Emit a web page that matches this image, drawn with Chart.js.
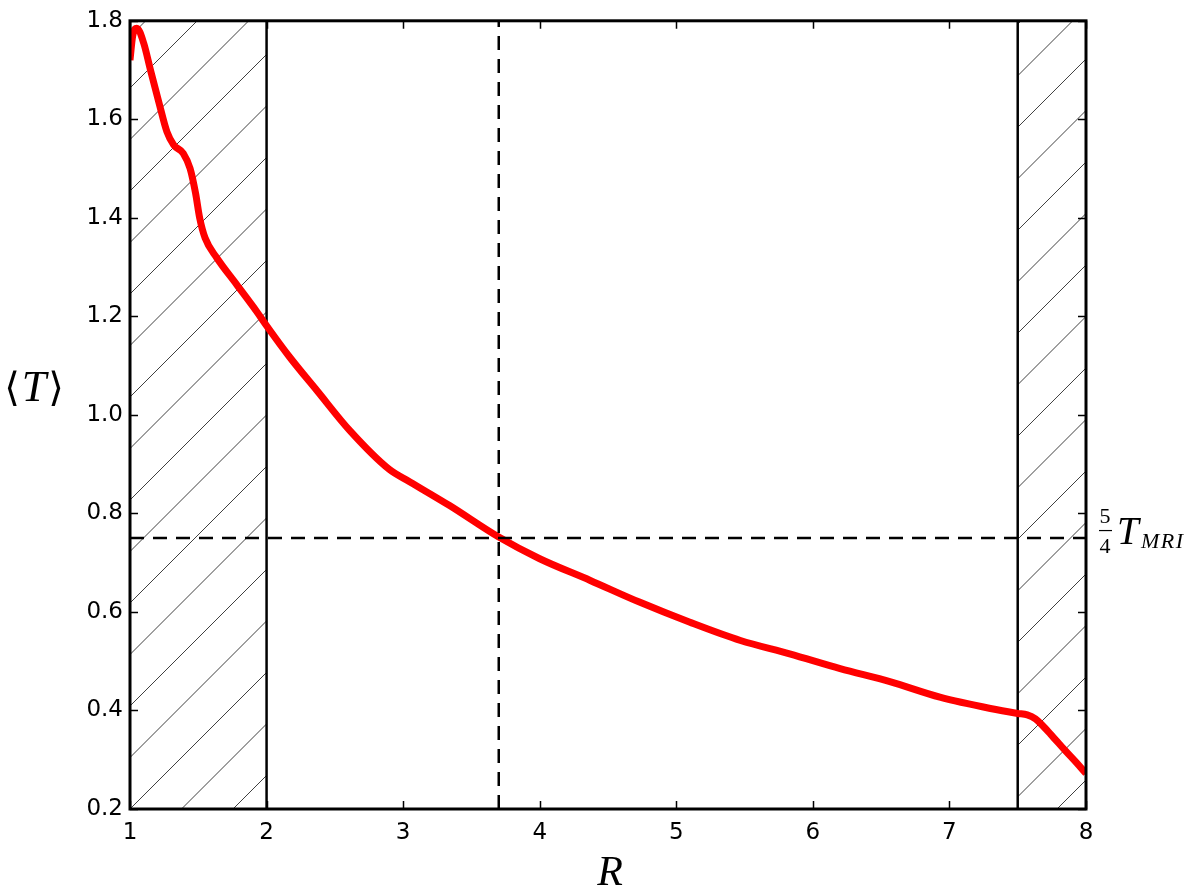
<!DOCTYPE html>
<html>
<head>
<meta charset="utf-8">
<script src="https://cdn.jsdelivr.net/npm/chart.js@4.4.1/dist/chart.umd.min.js"></script>
<style>
  html, body { margin: 0; padding: 0; background: #ffffff; }
  #wrap { width: 1200px; height: 889px; }
</style>
</head>
<body>
<div id="wrap"><canvas id="c" width="1200" height="889"></canvas></div>
<script>
// ---- data ----
const radius = [1.0, 1.02, 1.05, 1.1, 1.15, 1.21, 1.27, 1.32, 1.39, 1.44, 1.48, 1.51, 1.55, 1.635, 1.78, 1.93, 2.0, 2.17, 2.37, 2.61, 2.9, 3.05, 3.34, 3.7, 4.0, 4.37, 4.73, 5.1, 5.47, 5.83, 6.2, 6.57, 6.93, 7.3, 7.5, 7.57, 7.63, 7.68, 7.75, 7.85, 7.93, 8.0];
const meanT  = [1.72, 1.77, 1.785, 1.755, 1.70, 1.636, 1.575, 1.548, 1.531, 1.50, 1.45, 1.40, 1.359, 1.319, 1.265, 1.209, 1.181, 1.117, 1.049, 0.968, 0.889, 0.864, 0.816, 0.752, 0.708, 0.664, 0.62, 0.579, 0.542, 0.515, 0.485, 0.458, 0.427, 0.404, 0.394, 0.391, 0.383, 0.370, 0.349, 0.318, 0.294, 0.272];
const innerEdge = 2.0;      // solid vertical line
const outerEdge = 7.5;      // solid vertical line
const crossR = 3.7;         // dashed vertical line
const tMRI = 0.75;          // dashed horizontal line (5/4 T_MRI)
const hatchedRanges = [[1, 2], [7.5, 8]];
const xTicks = [1, 2, 3, 4, 5, 6, 7, 8];
const yTicks = [0.2, 0.4, 0.6, 0.8, 1.0, 1.2, 1.4, 1.6, 1.8];
const xLabel = 'R';

const curve = radius.map((r, i) => ({ x: r, y: meanT[i] }));
const yMin = yTicks[0], yMax = yTicks[yTicks.length - 1];
const xMin = xTicks[0], xMax = xTicks[xTicks.length - 1];

const hatchPlugin = {
  id: 'hatch',
  beforeDatasetsDraw(chart) {
    const { ctx, chartArea: a, scales: { x } } = chart;
    ctx.save();
    ctx.strokeStyle = '#000';
    ctx.lineWidth = 0.75;
    const spacing = 51.5;
    hatchedRanges.forEach(([r0, r1]) => {
      const px0 = x.getPixelForValue(r0), px1 = x.getPixelForValue(r1);
      ctx.save();
      ctx.beginPath();
      ctx.rect(px0, a.top, px1 - px0, a.bottom - a.top);
      ctx.clip();
      const base = a.left + a.bottom;
      for (let k = -40; k < 60; k++) {
        const c = base + spacing * k;
        ctx.beginPath();
        ctx.moveTo(c - a.bottom, a.bottom);
        ctx.lineTo(c - a.top, a.top);
        ctx.stroke();
      }
      ctx.restore();
    });
    ctx.restore();
  }
};

const framePlugin = {
  id: 'frame',
  afterDraw(chart) {
    const { ctx, chartArea: a, scales: { x, y } } = chart;
    ctx.save();
    // inward ticks
    ctx.strokeStyle = '#000';
    ctx.lineWidth = 1.5;
    const tl = 8;
    yTicks.forEach(v => {
      const py = Math.round(y.getPixelForValue(v)) + 0.5;
      ctx.beginPath();
      ctx.moveTo(a.left, py); ctx.lineTo(a.left + tl, py);
      ctx.moveTo(a.right, py); ctx.lineTo(a.right - tl, py);
      ctx.stroke();
    });
    xTicks.forEach(v => {
      const px = Math.round(x.getPixelForValue(v)) + 0.5;
      ctx.beginPath();
      ctx.moveTo(px, a.bottom); ctx.lineTo(px, a.bottom - tl);
      ctx.moveTo(px, a.top); ctx.lineTo(px, a.top + tl);
      ctx.stroke();
    });
    // frame
    ctx.lineWidth = 3;
    ctx.strokeRect(a.left, a.top, a.right - a.left, a.bottom - a.top);

    // axis labels
    ctx.fillStyle = '#000';
    ctx.textBaseline = 'alphabetic';
    ctx.textAlign = 'center';
    ctx.font = 'italic 42px "Liberation Serif", "DejaVu Serif", serif';
    ctx.fillText(xLabel, (a.left + a.right) / 2 + 2, 885);

    // <T> y label
    const yl = 401;
    ctx.textAlign = 'left';
    ctx.font = '40px "DejaVu Serif", serif';
    const lb = '\u27E8', rb = '\u27E9';
    const wlb = ctx.measureText(lb).width;
    ctx.font = 'italic 44px "Liberation Serif", serif';
    const wT = ctx.measureText('T').width + 4;
    let sx = 34 - (wlb * 2 + wT) / 2;
    ctx.font = '40px "DejaVu Serif", serif';
    ctx.fillText(lb, sx, yl);
    ctx.font = 'italic 44px "Liberation Serif", serif';
    ctx.fillText('T', sx + wlb + 2, yl);
    ctx.font = '40px "DejaVu Serif", serif';
    ctx.fillText(rb, sx + wlb + wT, yl);

    // 5/4 T_MRI annotation
    const ay = y.getPixelForValue(tMRI);
    const fx = a.right + 19;
    ctx.textAlign = 'center';
    ctx.font = '22px "Liberation Serif", serif';
    ctx.fillText('5', fx, ay - 15);
    ctx.fillText('4', fx, ay + 15);
    ctx.lineWidth = 1.2;
    ctx.beginPath();
    ctx.moveTo(fx - 6, ay - 7.5); ctx.lineTo(fx + 7, ay - 7.5);
    ctx.stroke();
    ctx.textAlign = 'left';
    ctx.font = 'italic 39px "Liberation Serif", serif';
    ctx.fillText('T', fx + 12, ay + 6);
    ctx.font = 'italic 22px "Liberation Serif", serif';
    ctx.letterSpacing = '1.5px';
    ctx.fillText('MRI', fx + 36, ay + 10);
    ctx.letterSpacing = '0px';
    ctx.restore();
  }
};

new Chart(document.getElementById('c'), {
  type: 'scatter',
  data: {
    datasets: [
      {
        label: 'inner', data: [{ x: innerEdge, y: yMin }, { x: innerEdge, y: yMax }],
        showLine: true, borderColor: '#000', borderWidth: 2.5, pointRadius: 0, order: 3
      },
      {
        label: 'outer', data: [{ x: outerEdge, y: yMin }, { x: outerEdge, y: yMax }],
        showLine: true, borderColor: '#000', borderWidth: 2.5, pointRadius: 0, order: 3
      },
      {
        label: 'T', data: curve, showLine: true, borderColor: '#ff0000', borderWidth: 7,
        pointRadius: 0, cubicInterpolationMode: 'monotone', order: 2, borderCapStyle: 'butt'
      },
      {
        label: 'crossR', data: [{ x: crossR, y: yMin }, { x: crossR, y: yMax }],
        showLine: true, borderColor: '#000', borderWidth: 2.5, borderDash: [14, 9], pointRadius: 0, order: 1
      },
      {
        label: 'tmri', data: [{ x: xMin, y: tMRI }, { x: xMax, y: tMRI }],
        showLine: true, borderColor: '#000', borderWidth: 2.5, borderDash: [14, 9], pointRadius: 0, order: 1
      }
    ]
  },
  options: {
    responsive: false,
    animation: false,
    events: [],
    layout: { padding: { top: 19, right: 114, left: 0, bottom: 0 } },
    plugins: { legend: { display: false }, tooltip: { enabled: false } },
    scales: {
      x: {
        type: 'linear', min: xMin, max: xMax,
        afterFit(s) { s.height = 80; },
        afterBuildTicks(s) { s.ticks = xTicks.map(v => ({ value: v })); },
        grid: { display: false, drawTicks: false },
        border: { display: false },
        ticks: { padding: 10, color: '#000', font: { family: 'DejaVu Sans', size: 23 }, callback: v => String(v) }
      },
      y: {
        type: 'linear', min: yMin, max: yMax,
        afterFit(s) { s.width = 130; },
        afterBuildTicks(s) { s.ticks = yTicks.map(v => ({ value: v })); },
        grid: { display: false, drawTicks: false },
        border: { display: false },
        ticks: { padding: 7, color: '#000', font: { family: 'DejaVu Sans', size: 23 }, callback: v => Number(v).toFixed(1) }
      }
    }
  },
  plugins: [hatchPlugin, framePlugin]
});
</script>
</body>
</html>
